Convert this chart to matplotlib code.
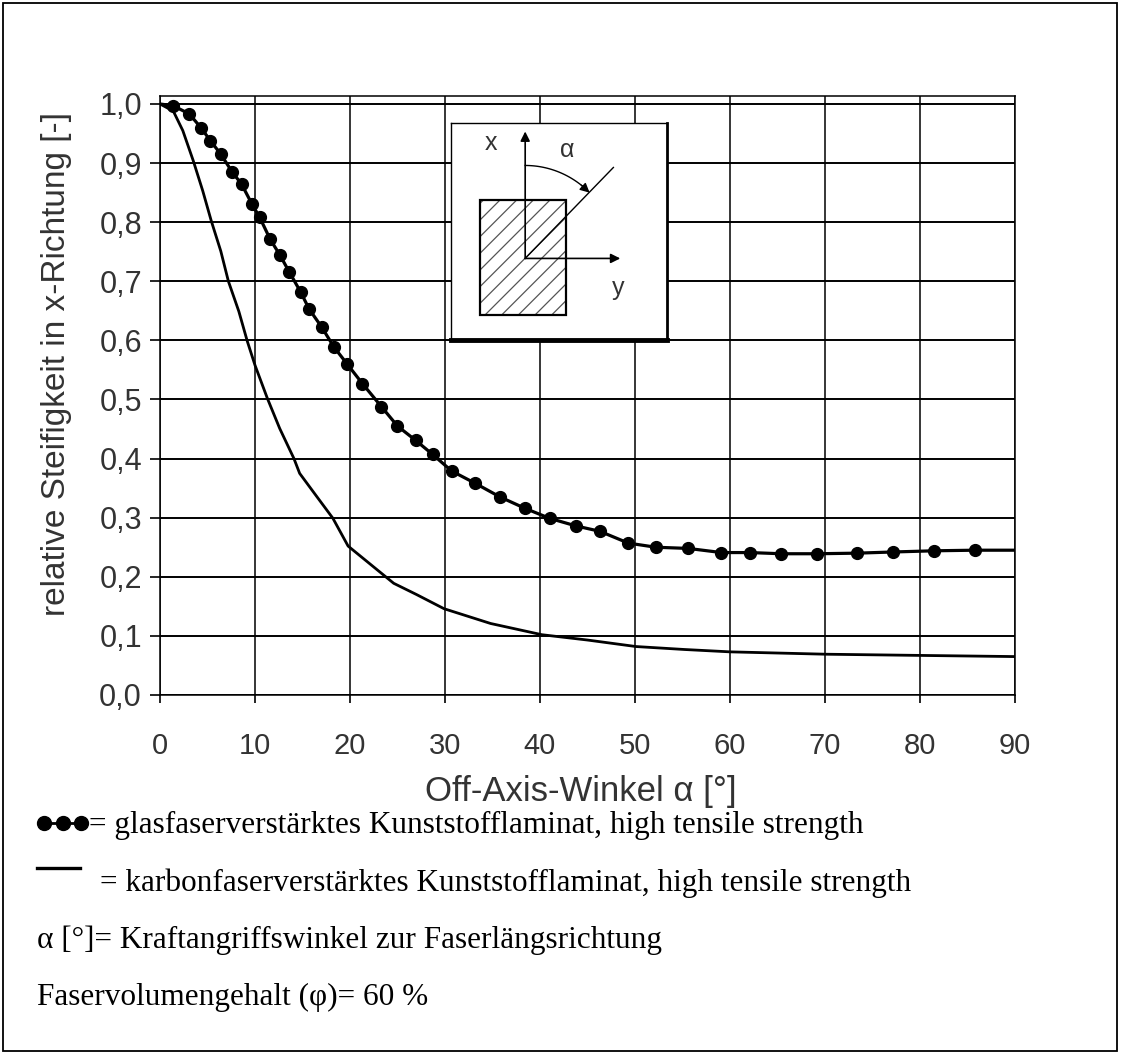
import matplotlib
matplotlib.use("Agg")
import matplotlib.pyplot as plt
import numpy as np
from matplotlib.lines import Line2D
from matplotlib.patches import Rectangle

# ---- data ----
glass_angle = [0, 1.4, 3.1, 4.3, 5.3, 6.4, 7.6, 8.6, 9.7, 10.5, 11.6, 12.6, 13.6,
               14.8, 15.7, 17.0, 18.3, 19.7, 21.3, 23.3, 25.0, 26.9, 28.7, 30.7,
               33.2, 35.8, 38.4, 41.0, 43.8, 46.3, 49.3, 52.2, 55.6, 59.1, 62.1,
               65.4, 69.2, 73.4, 77.2, 81.5, 85.8, 90]
glass_stiff = [1.0, 0.997, 0.983, 0.960, 0.938, 0.915, 0.885, 0.864, 0.830, 0.808,
               0.771, 0.745, 0.716, 0.682, 0.653, 0.623, 0.589, 0.560, 0.527, 0.488,
               0.455, 0.431, 0.407, 0.379, 0.358, 0.335, 0.316, 0.299, 0.286, 0.277,
               0.257, 0.250, 0.248, 0.241, 0.241, 0.239, 0.239, 0.240, 0.242, 0.244,
               0.245, 0.245]

carbon_angle = [0, 1.4, 2.4, 3.5, 4.5, 5.4, 6.4, 7.2, 8.3, 9.2, 10.0, 11.3, 12.6,
                14.1, 14.7, 16.4, 18.2, 19.8, 24.6, 27.0, 29.9, 34.8, 40.2, 45.0,
                50.1, 55.2, 60.0, 70.1, 79.9, 90]
carbon_stiff = [1.0, 0.988, 0.955, 0.904, 0.853, 0.802, 0.751, 0.700, 0.649, 0.598,
                0.558, 0.502, 0.451, 0.400, 0.375, 0.338, 0.299, 0.252, 0.189, 0.170,
                0.146, 0.121, 0.102, 0.093, 0.082, 0.077, 0.073, 0.069, 0.067, 0.065]

x_ticks = [0, 10, 20, 30, 40, 50, 60, 70, 80, 90]
y_ticks = [0.0, 0.1, 0.2, 0.3, 0.4, 0.5, 0.6, 0.7, 0.8, 0.9, 1.0]
y_ticklabels = ["0,0", "0,1", "0,2", "0,3", "0,4", "0,5", "0,6", "0,7", "0,8", "0,9", "1,0"]
x_label = "Off-Axis-Winkel \u03b1 [\u00b0]"
y_label = "relative Steifigkeit in x-Richtung [-]"
legend_lines = [
    "= glasfaserverst\u00e4rktes Kunststofflaminat, high tensile strength",
    "= karbonfaserverst\u00e4rktes Kunststofflaminat, high tensile strength",
    "\u03b1 [\u00b0]= Kraftangriffswinkel zur Faserl\u00e4ngsrichtung",
    "Faservolumengehalt (\u03c6)= 60 %",
]

W, H = 1121, 1054
fig = plt.figure(figsize=(W / 100, H / 100), dpi=100)
fig.patch.set_facecolor("white")

def fx(px):
    return px / W

def fy(py):
    return 1 - py / H

sans = "Liberation Sans"
serif = "Liberation Serif"
txt_col = "#333333"

# main axes: x=0 at px160, x=90 at px1015; y=0 at px695, top frame at px96
ax = fig.add_axes([fx(160), fy(695), fx(1015) - fx(160), fy(96) - fy(695)])
ax.set_xlim(0, 90)
ax.set_ylim(0, 1.0135)
ax.set_xticks(x_ticks)
ax.set_yticks(y_ticks)
ax.set_yticklabels(y_ticklabels)
ax.grid(True, axis="y", color="black", lw=1.4)
ax.grid(True, axis="x", color="black", lw=1.1)
ax.set_axisbelow(True)
for s in ax.spines.values():
    s.set_linewidth(1.1)
ax.tick_params(axis="both", direction="out", color="black", width=1.2,
               labelsize=21, labelcolor=txt_col)
ax.tick_params(axis="y", length=7, pad=6, labelsize=22)
ax.tick_params(axis="x", length=6, pad=21)
for lab in ax.get_xticklabels() + ax.get_yticklabels():
    lab.set_family(sans)
ax.set_xlabel(x_label, fontsize=25, family=sans, color=txt_col)
ax.set_ylabel(y_label, fontsize=24, family=sans, color=txt_col)
ax.xaxis.set_label_coords(0.492, -0.133)
ax.yaxis.set_label_coords(-0.103, 0.553)

# curves
ax.plot(carbon_angle, carbon_stiff, color="black", lw=2.0, zorder=3)
ax.plot(glass_angle, glass_stiff, color="black", lw=2.3, marker="o", ms=8.5,
        markevery=list(range(1, len(glass_angle) - 1)), zorder=4)

# ---- inset diagram, placed in data coordinates of the main axes ----
inset_x0, inset_x1, inset_y0, inset_y1 = 30.6, 53.4, 0.60, 0.967
ins = ax.inset_axes([inset_x0, inset_y0, inset_x1 - inset_x0, inset_y1 - inset_y0],
                    transform=ax.transData)
L, R, T, B = 449, 670, 125, 342  # internal drawing units
ins.set_xlim(L, R)
ins.set_ylim(B, T)
ins.set_xticks([])
ins.set_yticks([])
ins.set_facecolor("white")
ins.set_zorder(5)
ins.spines["left"].set_linewidth(1.0)
ins.spines["top"].set_linewidth(1.0)
ins.spines["right"].set_linewidth(2.0)
ins.spines["bottom"].set_linewidth(3.5)

plt.rcParams["hatch.linewidth"] = 0.9
ins.add_patch(Rectangle((479, 202), 88, 115, facecolor="white", edgecolor="#555555",
                        hatch="//", lw=0))
ins.add_patch(Rectangle((479, 202), 88, 115, facecolor="none", edgecolor="black", lw=1.6))
ox, oy = 525, 260
ins.annotate("", xy=(ox, 133), xytext=(ox, oy),
             arrowprops=dict(arrowstyle="-|>", lw=1.2, color="black", mutation_scale=14,
                             shrinkA=0, shrinkB=0))
ins.annotate("", xy=(622, oy), xytext=(ox, oy),
             arrowprops=dict(arrowstyle="-|>", lw=1.2, color="black", mutation_scale=14,
                             shrinkA=0, shrinkB=0))
ins.plot([ox, 615], [oy, 169], color="black", lw=1.0)
r = 93
th = np.radians(np.linspace(0, 40, 30))
ins.plot(ox + r * np.sin(th), oy - r * np.cos(th), color="black", lw=1.0)
t1, t2 = np.radians(38), np.radians(45)
ins.annotate("", xy=(ox + r * np.sin(t2), oy - r * np.cos(t2)),
             xytext=(ox + r * np.sin(t1), oy - r * np.cos(t1)),
             arrowprops=dict(arrowstyle="-|>", lw=1.0, color="black", mutation_scale=14,
                             shrinkA=0, shrinkB=0))
ins.text(490, 145, "x", fontsize=18, family=sans, color=txt_col, ha="center", va="center")
ins.text(568, 152, "\u03b1", fontsize=18, family=sans, color=txt_col, ha="center", va="center")
ins.text(620, 290, "y", fontsize=18, family=sans, color=txt_col, ha="center", va="center")

# ---- legend / notes below the chart ----
fig.add_artist(Line2D([fx(44), fx(81)], [fy(823), fy(823)], color="black", lw=2.0,
                      marker="o", ms=10, markevery=[0, 1], transform=fig.transFigure))
fig.add_artist(Line2D([fx(62.5)], [fy(823)], color="black", marker="o", ms=10,
                      transform=fig.transFigure))
fig.add_artist(Line2D([fx(37), fx(80)], [fy(868), fy(868)], color="black", lw=2.4,
                      transform=fig.transFigure))
fs_leg = 22.5
fig.text(fx(89), fy(825), legend_lines[0], fontsize=fs_leg, family=serif, va="center", ha="left")
fig.text(fx(100), fy(883), legend_lines[1], fontsize=fs_leg, family=serif, va="center", ha="left")
fig.text(fx(37), fy(940), legend_lines[2], fontsize=fs_leg, family=serif, va="center", ha="left")
fig.text(fx(37), fy(997), legend_lines[3], fontsize=fs_leg, family=serif, va="center", ha="left")

# outer frame
fig.add_artist(Rectangle((fx(3), fy(1051)), fx(1117) - fx(3), fy(3) - fy(1051),
                         transform=fig.transFigure, fill=False, edgecolor="black", lw=1.3))

fig.savefig("out.png", dpi=100, facecolor="white")
